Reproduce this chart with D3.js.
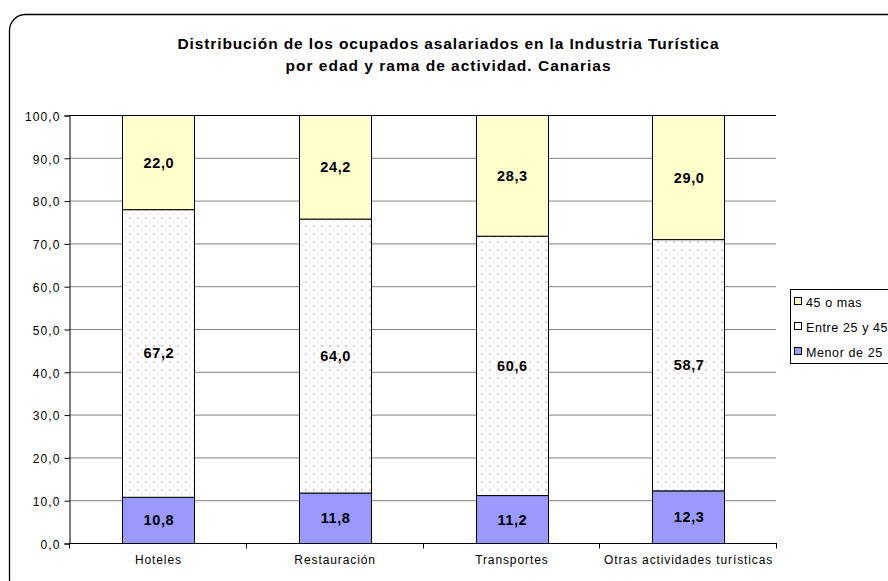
<!DOCTYPE html>
<html><head><meta charset="utf-8">
<script src="https://cdn.jsdelivr.net/npm/d3@7"></script>
<style>body{margin:0;background:#fff}svg{display:block;font-family:"Liberation Sans",Arial,sans-serif}</style>
</head><body><svg id="c" width="888" height="581"></svg>
<script>
const categories = ["Hoteles","Restauración","Transportes","Otras actividades turísticas"];
const menor25 = [10.8, 11.8, 11.2, 12.3];
const entre25y45 = [67.2, 64.0, 60.6, 58.7];
const mas45 = [22.0, 24.2, 28.3, 29.0];
const seriesNames = ["Menor de 25","Entre 25 y 45","45 o mas"];
const yTicks = [0,10,20,30,40,50,60,70,80,90,100];
const titleLines = ["Distribución de los ocupados asalariados en la Industria Turística","por edad y rama de actividad. Canarias"];

const svg = d3.select("#c");
const defs = svg.append("defs");
const pat = defs.append("pattern").attr("id","dots").attr("patternUnits","userSpaceOnUse")
  .attr("width",8).attr("height",8);
pat.append("rect").attr("width",8).attr("height",8).attr("fill","#fff");
pat.append("rect").attr("x",1).attr("y",1).attr("width",2).attr("height",2).attr("fill","#e4c4cf");
pat.append("rect").attr("x",5).attr("y",5).attr("width",2).attr("height",1).attr("fill","#eed6de");

// frame
svg.append("rect").attr("x",9.5).attr("y",14.5).attr("width",900).attr("height",580)
  .attr("rx",16).attr("fill","none").attr("stroke","#000").attr("stroke-width",1.3);

// title
const tw = [541, 325];
svg.append("g").selectAll("text").data(titleLines).join("text")
  .attr("x",(d,i)=>448-tw[i]/2).attr("y",(d,i)=>49+i*22)
  .attr("font-weight","bold").attr("font-size",15.5)
  .attr("textLength",(d,i)=>tw[i]).attr("lengthAdjust","spacing")
  .text(d=>d);

const L=69, R=776, T=115, B=543;
const x = d3.scaleBand().domain(categories).range([L,R]).paddingInner(0.59).paddingOuter(0.295);
const y = d3.scaleLinear().domain([0,100]).range([B,T]);

// gridlines
svg.append("g").selectAll("line").data(yTicks.filter(t=>t>0)).join("line")
  .attr("x1",L).attr("x2",R).attr("y1",d=>y(d)+0.5).attr("y2",d=>y(d)+0.5)
  .attr("stroke",d=>d===100?"#000":"#808080").attr("stroke-width",1);

// stacked
const data = categories.map((c,i)=>({cat:c, "Menor de 25":menor25[i], "Entre 25 y 45":entre25y45[i], "45 o mas":mas45[i]}));
const stack = d3.stack().keys(seriesNames)(data);
const fills = {"Menor de 25":"#9999ff","Entre 25 y 45":"url(#dots)","45 o mas":"#ffffcc"};
stack.forEach(s=>{
  const g = svg.append("g");
  g.selectAll("rect").data(s).join("rect")
    .attr("x",d=>Math.round(x(d.data.cat))+1.5).attr("width",Math.round(x.bandwidth()))
    .attr("y",d=>y(Math.min(d[1],100))+0.5).attr("height",d=>y(d[0])-y(Math.min(d[1],100)))
    .attr("fill",fills[s.key]).attr("stroke","#000").attr("stroke-width",1);
  g.selectAll("text").data(s).join("text")
    .attr("x",d=>x(d.data.cat)+x.bandwidth()/2+1.5)
    .attr("y",d=>(y(d[0])+y(Math.min(d[1],100)))/2+5.5)
    .attr("text-anchor","middle").attr("font-weight","bold").attr("font-size",14.5)
    .attr("letter-spacing",0.6)
    .text(d=>d3.format(".1f")(d.data[s.key]).replace(".",","));
});

// y axis
const ya = svg.append("g").attr("transform",`translate(${L+0.5},0.5)`)
  .call(d3.axisLeft(y).tickValues(yTicks).tickSize(5).tickFormat(d=>d3.format(".1f")(d).replace(".",",")));
ya.select(".domain").attr("stroke","#000");
ya.selectAll("text").attr("font-size",12).attr("fill","#000").attr("letter-spacing",1.1)
  .attr("font-family","Liberation Sans, Arial, sans-serif").attr("dx",-1).attr("dy","0.4em");

// x axis
const xa = svg.append("g").attr("transform",`translate(0,${B+0.5})`);
xa.append("line").attr("x1",L).attr("x2",R+1).attr("stroke","#000");
const bounds = d3.range(categories.length+1).map(i=>L+i*(R-L)/categories.length);
xa.selectAll("line.t").data(bounds).join("line").attr("class","t")
  .attr("x1",d=>Math.round(d)+0.5).attr("x2",d=>Math.round(d)+0.5).attr("y1",0).attr("y2",5).attr("stroke","#000");
xa.selectAll("text").data(categories).join("text")
  .attr("x",d=>x(d)+x.bandwidth()/2+1).attr("y",20).attr("text-anchor","middle")
  .attr("font-size",12).attr("letter-spacing",0.9).text(d=>d);

// legend
const lg = svg.append("g");
lg.append("rect").attr("x",790.5).attr("y",289.5).attr("width",120).attr("height",74).attr("fill","#fff").attr("stroke","#000");
const legItems = ["45 o mas","Entre 25 y 45","Menor de 25"];
const legFill = {"45 o mas":"#ffffcc","Entre 25 y 45":"#fff","Menor de 25":"#9999ff"};
legItems.forEach((k,i)=>{
  const yy = 302 + i*25;
  lg.append("rect").attr("x",794.5).attr("y",yy-4.5).attr("width",7).attr("height",7)
    .attr("fill",legFill[k]).attr("stroke","#000");
  lg.append("text").attr("x",806).attr("y",yy+4.5).attr("font-size",12.5).attr("letter-spacing",0.6).text(k);
});
</script></body></html>
